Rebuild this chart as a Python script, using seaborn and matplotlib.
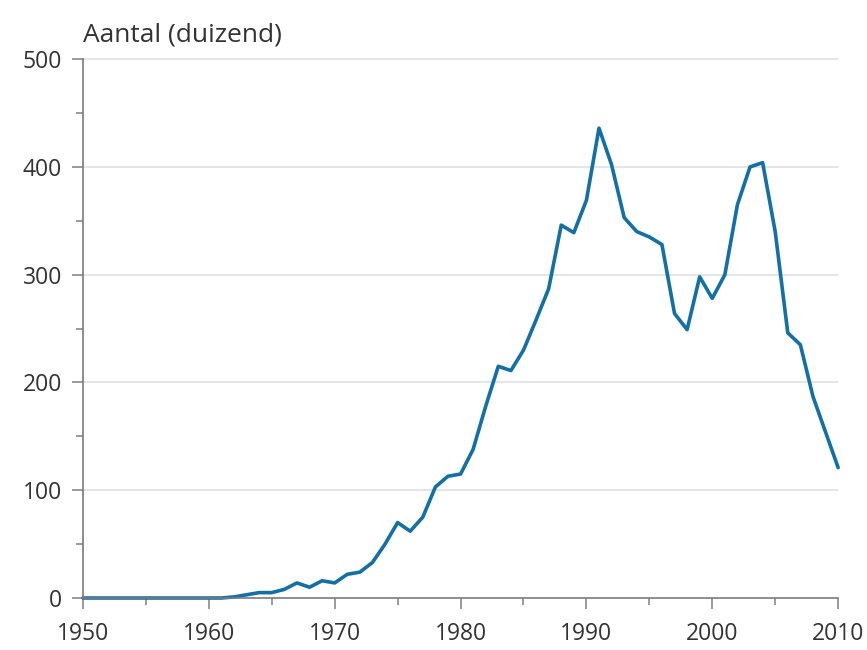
import matplotlib
matplotlib.use("Agg")
import matplotlib.pyplot as plt
import seaborn as sns
import pandas as pd
from matplotlib.ticker import MultipleLocator

years = list(range(1950, 2011))
aantal = [0, 0, 0, 0, 0, 0, 0, 0, 0, 0,
          0, 0, 1, 3, 5, 5, 8, 14, 10, 16,
          14, 22, 24, 33, 50, 70, 62, 75, 103, 113,
          115, 138, 178, 215, 211, 230, 258, 287, 346, 339,
          369, 436, 402, 353, 340, 335, 328, 264, 249, 298,
          278, 300, 365, 400, 404, 340, 246, 235, 187, 154,
          121]

df = pd.DataFrame({"jaar": years, "aantal": aantal})

sns.set_style("white")
plt.rcParams["font.family"] = ["Open Sans", "DejaVu Sans"]

fig = plt.figure(figsize=(8.67, 6.5), dpi=100)
ax = fig.add_axes([0.0957, 0.08, 0.871, 0.829])

for y in [100, 200, 300, 400, 500]:
    ax.axhline(y, color="#e3e3e3", linewidth=1.3, zorder=0)

sns.lineplot(data=df, x="jaar", y="aantal", color="#1270a6", linewidth=2.6, ax=ax)
for l in ax.lines:
    l.set_clip_on(False)

ax.set_xlim(1950, 2010)
ax.set_ylim(0, 500)
ax.xaxis.set_major_locator(MultipleLocator(10))
ax.xaxis.set_minor_locator(MultipleLocator(5))
ax.yaxis.set_major_locator(MultipleLocator(100))
ax.yaxis.set_minor_locator(MultipleLocator(50))

for s in ["top", "right"]:
    ax.spines[s].set_visible(False)
for s in ["left", "bottom"]:
    ax.spines[s].set_color("#7a7a7a")
    ax.spines[s].set_linewidth(1.2)

ax.tick_params(which="major", length=8, width=1.2, color="#8a8a8a",
               labelsize=16.5, labelcolor="#333333")
ax.tick_params(which="minor", length=5, width=1.2, color="#8a8a8a")
ax.tick_params(axis="x", which="both", bottom=True, pad=9)
ax.tick_params(axis="y", which="both", left=True, pad=7)

ax.set_xlabel("")
ax.set_ylabel("")
ax.text(0.0, 1.022, "Aantal (duizend)", transform=ax.transAxes,
        fontsize=19, color="#333333", ha="left", va="bottom")

plt.savefig("out.png", dpi=100)
